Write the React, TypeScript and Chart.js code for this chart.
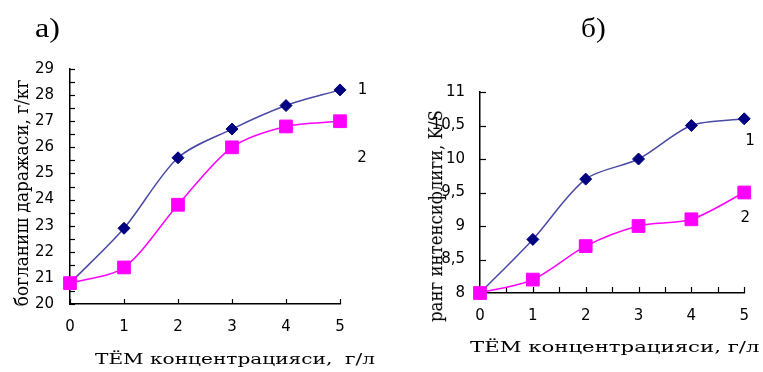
import React, { useEffect, useLayoutEffect, useRef, useState } from "react";
import { Chart, registerables } from "chart.js";
Chart.register(...registerables);

// ---- data ----
const concentration = [0, 1, 2, 3, 4, 5];
const bindingCurve1 = [20.8, 22.9, 25.6, 26.7, 27.6, 28.2];
const bindingCurve2 = [20.8, 21.4, 23.8, 26.0, 26.8, 27.0];
const intensityCurve1 = [8.0, 8.8, 9.7, 10.0, 10.5, 10.6];
const intensityCurve2 = [8.0, 8.2, 8.7, 9.0, 9.1, 9.5];
const curveNames = ["1", "2"];
const panelLabels = ["а)", "б)"];
const xTitleA = "ТЁМ концентрацияси,  г/л";
const xTitleB = "ТЁМ концентрацияси, г/л";
const yTitleA = "богланиш даражаси, г/кг";
const yTitleB = "ранг интенсифлиги, K/S";

const NAVY = "#000080";
const NAVY_LINE = "#4a4aa6";
const MAGENTA = "#ff00ff";
const TICK_FONT = { family: "'DejaVu Sans', 'Liberation Sans', sans-serif", size: 15 };

const inwardTicks = {
  id: "inwardTicks",
  beforeDatasetsDraw(chart: any, _a: any, opts: any) {
    const { ctx, chartArea } = chart;
    const xs = chart.scales.x;
    const ys = chart.scales.y;
    ctx.save();
    ctx.strokeStyle = "#000";
    ctx.lineWidth = 1.2;
    const len = opts.length || 5;
    for (let i = 0; ; i++) {
      const v = xs.min + i * opts.xStep;
      if (v > xs.max + 1e-9) break;
      const px = Math.round(xs.getPixelForValue(v)) + 0.5;
      ctx.beginPath();
      ctx.moveTo(px, chartArea.bottom);
      ctx.lineTo(px, chartArea.bottom - len);
      ctx.stroke();
    }
    for (let i = 0; ; i++) {
      const v = ys.min + i * opts.yStep;
      if (v > ys.max + 1e-9) break;
      const py = Math.round(ys.getPixelForValue(v)) + 0.5;
      ctx.beginPath();
      ctx.moveTo(chartArea.left, py);
      ctx.lineTo(chartArea.left + len, py);
      ctx.stroke();
    }
    ctx.restore();
  },
};

const curveLabels = {
  id: "curveLabels",
  afterDatasetsDraw(chart: any, _a: any, opts: any) {
    const { ctx } = chart;
    const xs = chart.scales.x;
    const ys = chart.scales.y;
    ctx.save();
    ctx.font = "15px 'DejaVu Sans', 'Liberation Sans', sans-serif";
    ctx.fillStyle = "#000";
    ctx.textAlign = "left";
    ctx.textBaseline = "middle";
    (opts.items || []).forEach((it: any) => {
      ctx.fillText(it.text, xs.getPixelForValue(it.x), ys.getPixelForValue(it.y));
    });
    ctx.restore();
  },
};

function makeDatasets(a: number[], b: number[]) {
  return [
    {
      label: curveNames[0],
      data: concentration.map((x, i) => ({ x, y: a[i] })),
      borderColor: NAVY_LINE,
      borderWidth: 1.5,
      backgroundColor: NAVY,
      pointBackgroundColor: NAVY,
      pointBorderColor: NAVY,
      pointBorderWidth: 1,
      pointStyle: "rectRot",
      pointRadius: 6,
      tension: 0.3,
      clip: false,
      order: 2,
    },
    {
      label: curveNames[1],
      data: concentration.map((x, i) => ({ x, y: b[i] })),
      borderColor: MAGENTA,
      borderWidth: 1.5,
      backgroundColor: MAGENTA,
      pointBackgroundColor: MAGENTA,
      pointBorderColor: MAGENTA,
      pointBorderWidth: 1,
      pointStyle: "rect",
      pointRadius: 9,
      tension: 0.3,
      clip: false,
      order: 1,
    },
  ];
}

interface PanelProps {
  left: number;
  width: number;
  height: number;
  a: number[];
  b: number[];
  yMin: number;
  yMax: number;
  yStep: number;
  yTickStep: number;
  xTickStep: number;
  yAxisWidth: number;
  padding: { left: number; right: number; top: number; bottom: number };
  yLabelPad: number;
  xLabelPad: number;
  tickLen: number;
  labels: { text: string; x: number; y: number }[];
}

function Panel(p: PanelProps) {
  const ref = useRef<HTMLCanvasElement>(null);
  useEffect(() => {
    if (!ref.current) return;
    const chart = new Chart(ref.current, {
      type: "line",
      data: { datasets: makeDatasets(p.a, p.b) as any },
      plugins: [inwardTicks, curveLabels],
      options: {
        responsive: false,
        animation: false,
        devicePixelRatio: 1,
        layout: { autoPadding: false, padding: p.padding },
        plugins: {
          legend: { display: false },
          tooltip: { enabled: false },
          inwardTicks: { xStep: p.xTickStep, yStep: p.yTickStep, length: p.tickLen },
          curveLabels: { items: p.labels },
        } as any,
        scales: {
          x: {
            type: "linear",
            min: 0,
            max: 5,
            grid: { display: false, drawTicks: false },
            border: { display: true, color: "#000", width: 1.5 },
            ticks: { stepSize: 1, padding: p.xLabelPad, color: "#000", font: TICK_FONT },
            afterFit: (s: any) => {
              s.height = 30;
            },
          },
          y: {
            type: "linear",
            min: p.yMin,
            max: p.yMax,
            grid: { display: false, drawTicks: false },
            border: { display: true, color: "#000", width: 1.5 },
            ticks: {
              stepSize: p.yStep,
              padding: p.yLabelPad,
              color: "#000",
              font: TICK_FONT,
              callback: (v: any) => String(v).replace(".", ","),
            },
            afterFit: (s: any) => {
              s.width = p.yAxisWidth;
            },
          },
        },
      } as any,
    });
    return () => chart.destroy();
  }, []);
  return (
    <canvas
      ref={ref}
      width={p.width}
      height={p.height}
      style={{ position: "absolute", left: p.left, top: 0, width: p.width, height: p.height }}
    />
  );
}

function StretchText(props: {
  text: string;
  x: number;
  y: number;
  length: number;
  size: number;
  vertical?: boolean;
  thick?: number;
  family: string;
}) {
  const ref = useRef<HTMLDivElement>(null);
  const [s, setS] = useState(1);
  useLayoutEffect(() => {
    if (ref.current) {
      const w = ref.current.offsetWidth;
      if (w) setS(props.length / w);
    }
  }, [props.text, props.length]);
  const base: React.CSSProperties = {
    position: "absolute",
    whiteSpace: "pre",
    fontFamily: props.family,
    fontSize: props.size,
    lineHeight: 1,
    color: "#000",
  };
  if (props.vertical) {
    return (
      <div
        ref={ref}
        style={{
          ...base,
          left: props.x,
          top: props.y,
          transform: `translate(-50%, -50%) rotate(-90deg) scale(${s}, ${props.thick || 1})`,
        }}
      >
        {props.text}
      </div>
    );
  }
  return (
    <div
      ref={ref}
      style={{
        ...base,
        left: props.x,
        top: props.y,
        transformOrigin: "0 0",
        transform: `scale(${s}, ${props.thick || 1})`,
      }}
    >
      {props.text}
    </div>
  );
}

const SERIF = "'DejaVu Serif', 'Liberation Serif', serif";
const TIMES = "'Liberation Serif', 'Times New Roman', serif";

export default function App() {
  return (
    <div
      style={{
        position: "absolute",
        left: 0,
        top: 0,
        width: 763,
        height: 372,
        background: "#fff",
        overflow: "hidden",
      }}
    >
      <Panel
        left={0}
        width={380}
        height={372}
        a={bindingCurve1}
        b={bindingCurve2}
        yMin={20}
        yMax={29}
        yStep={1}
        yTickStep={0.5}
        xTickStep={1}
        yAxisWidth={70}
        padding={{ left: 0, right: 40, top: 69, bottom: 38 }}
        yLabelPad={16}
        xLabelPad={14}
        tickLen={5}
        labels={[
          { text: curveNames[0], x: 5.33, y: 28.2 },
          { text: curveNames[1], x: 5.32, y: 25.6 },
        ]}
      />
      <Panel
        left={380}
        width={383}
        height={372}
        a={intensityCurve1}
        b={intensityCurve2}
        yMin={8}
        yMax={11}
        yStep={0.5}
        yTickStep={0.5}
        xTickStep={0.5}
        yAxisWidth={100}
        padding={{ left: 0, right: 15, top: 92, bottom: 49 }}
        yLabelPad={15}
        xLabelPad={14}
        tickLen={6}
        labels={[
          { text: curveNames[0], x: 5.02, y: 10.26 },
          { text: curveNames[1], x: 4.93, y: 9.12 },
        ]}
      />
      <StretchText text={xTitleA} x={95} y={352} length={280} size={15} family={SERIF} />
      <StretchText text={xTitleB} x={470} y={340} length={289} size={15} family={SERIF} />
      <StretchText text={yTitleA} x={22} y={193} length={227} size={15} vertical thick={1.25} family={SERIF} />
      <StretchText text={yTitleB} x={436} y={216} length={212} size={15} vertical thick={1.25} family={SERIF} />
      <StretchText text={panelLabels[0]} x={35} y={15} length={25} size={27} family={TIMES} />
      <StretchText text={panelLabels[1]} x={581} y={15} length={25} size={27} family={TIMES} />
    </div>
  );
}
